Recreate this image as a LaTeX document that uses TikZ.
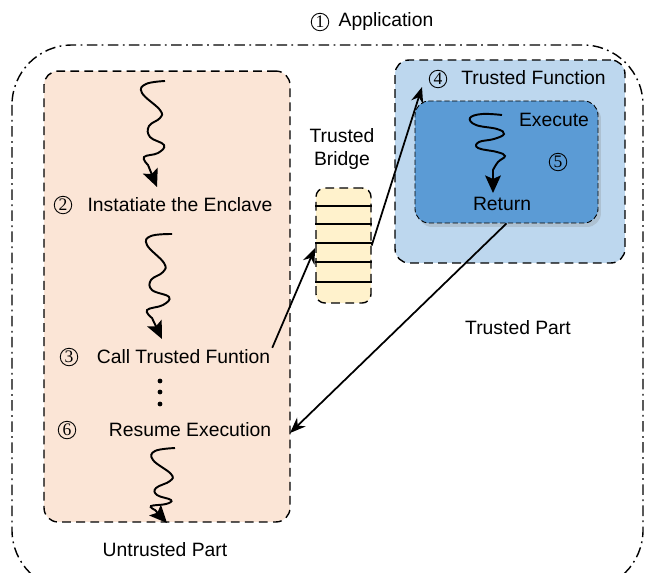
\documentclass[tikz,border=0pt]{standalone}
\usepackage{fontspec}
\setmainfont{Liberation Sans}
\newfontfamily\numfont{Liberation Serif}
\usetikzlibrary{arrows.meta,shadows,positioning}

\definecolor{untrustfill}{HTML}{FBE5D6}
\definecolor{bridgefill}{HTML}{FFF2CC}
\definecolor{trustfill}{HTML}{BDD7EE}
\definecolor{execfill}{HTML}{5B9BD5}

\tikzset{
  part/.style={draw, line width=0.8pt, dash pattern=on 5pt off 3pt,
    rounded corners=8pt, inner sep=0pt},
  txt/.style={font=\fontsize{11}{13}\selectfont, inner sep=1pt, align=center},
  num/.style={circle, draw, line width=0.5pt, inner sep=0pt, minimum size=0.35cm,
    font=\numfont\fontsize{10}{10}\selectfont},
  wavy/.style={-{Stealth[length=10pt,width=9pt,inset=2pt]}, line width=1.1pt},
  link/.style={-{Stealth[length=9pt,width=7pt]}, line width=1pt},
}

\begin{document}
\begin{tikzpicture}[x=0.02cm, y=-0.02cm]
\useasboundingbox (0,0) rectangle (645,572);

% Application frame
\begin{scope}
  \clip (0,0) rectangle (645,572);
  \draw[line width=0.8pt, dash pattern=on 6pt off 2.5pt on 1pt off 2.5pt,
    rounded corners=1.2cm] (12,45) rectangle (643,590);
\end{scope}
\node[num] (n1) at (320,22) {1};
\node[txt] (app) at (386,22) {Application};

% Untrusted part
\node[part, fill=untrustfill, minimum width=4.92cm, minimum height=9.02cm]
  (untrusted) at (167,296.5) {};
\node[txt] (untrustedlbl) at (165,550) {Untrusted Part};

\node[num] (n2) at (63,205) {2};
\node[txt] (inst) at (180,205) {Instatiate the Enclave};
\node[num] (n3) at (69,357) {3};
\node[txt] (call) at (183.5,357) {Call Trusted Funtion};
\node[num] (n6) at (67,430) {6};
\node[txt] (resume) at (190,430) {Resume Execution};

% wavy flows
\draw[wavy] plot[smooth, tension=0.7] coordinates {(165,81) (146,84) (142,93)
  (160,110) (160,118) (149,126) (150,137) (164,145) (158,153) (144,157)
  (148,165)} -- (157,187);
\draw[wavy] plot[smooth, tension=0.7] coordinates {(172,234) (151,236) (147,245)
  (164,263) (163,272) (151,280) (152,290) (169,297) (163,305) (147,310)
  (152,318)} -- (162,339);
\draw[wavy] plot[smooth, tension=0.7] coordinates {(175,448) (155,451) (153,460)
  (171,474) (170,481) (156,488) (157,495) (171,500) (166,504) (151,506)
  (155,510)} -- (167,523);

% dots
\foreach \yy in {381,392,404}
  \fill (160,\yy) circle (2.4);

% Trusted bridge
\node[part, fill=bridgefill, minimum width=1.1cm, minimum height=2.3cm,
  rounded corners=5pt] (bridge) at (343.5,245.5) {};
\foreach \yy in {206,224,243,262,282}
  \draw[line width=1.1pt] (bridge.west |- 0,\yy) -- (bridge.east |- 0,\yy);
\node[txt] (bridgelbl) at (342,149) {Trusted\\Bridge};

% Trusted function
\node[part, fill=trustfill, minimum width=4.6cm, minimum height=4.06cm]
  (tfunc) at (510,161.5) {};
\node[num] (n4) at (438,79) {4};
\node[txt] (tfunclbl) at (533.5,78) {Trusted Function};
\node[part, line width=0.5pt, dash pattern=on 3pt off 1.5pt, fill=execfill,
  minimum width=3.66cm, minimum height=2.44cm,
  drop shadow={opacity=0.25, shadow xshift=0.6mm, shadow yshift=-0.8mm}]
  (exec) at (506.5,162) {};
\node[txt] (execlbl) at (554,120) {Execute};
\node[num] (n5) at (558,162) {5};
\node[txt] (ret) at (502,204) {Return};
\draw[wavy] plot[smooth, tension=0.7] coordinates {(502,115) (482,114) (470,118)
  (476,125) (497,129) (504,134) (494,139) (479,142) (478,148) (497,152)
  (505,156) (498,162) (493,170)} -- (493,193);

\node[txt] (trustedlbl) at (518,328) {Trusted Part};

% calls
\coordinate (bridgein) at (315,248);
\coordinate (tfuncin) at (422,87);
\coordinate (resumein) at (290,433);
\draw[link] (call.north east) -- (bridgein);
\draw[link] (bridge.east) -- (tfuncin);
\draw[link] (exec.south) -- (resumein);
\end{tikzpicture}
\end{document}
